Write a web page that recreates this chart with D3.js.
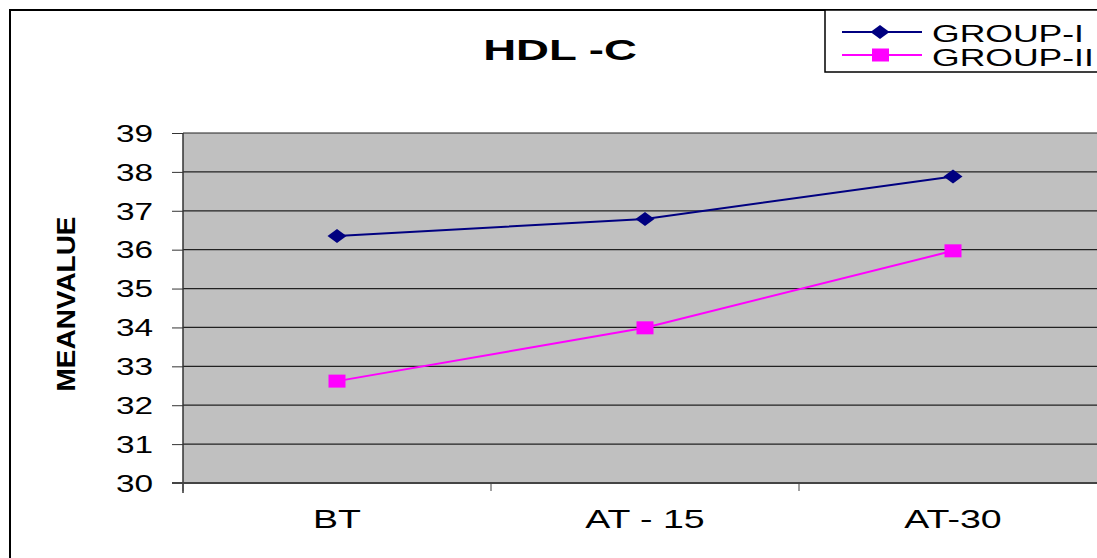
<!DOCTYPE html>
<html><head><meta charset="utf-8">
<script src="https://cdn.jsdelivr.net/npm/d3@7"></script>
<style>body{margin:0;background:#fff;}svg{display:block;}</style>
</head><body>
<svg id="c" width="1097" height="558"></svg>
<script>
const categories = ["BT", "AT - 15", "AT-30"];
const group1 = [36.35, 36.79, 37.88];
const group2 = [32.62, 33.99, 35.97];
const seriesNames = ["GROUP-I", "GROUP-II"];
const yTicks = [30, 31, 32, 33, 34, 35, 36, 37, 38, 39];
const title = "HDL -C";
const yLabel = "MEANVALUE";

(function () {
const svg = d3.select("#c");
const font = "Liberation Sans, Arial, sans-serif";
const pLeft = 183, pTop = 133, pBottom = 483, bandW = 308;
const pRight = pLeft + bandW * categories.length;
const K = 1.5; // horizontal text stretch seen in reference

function stretch(sel, k) {
  sel.each(function () {
    const w = this.getComputedTextLength();
    d3.select(this).attr("textLength", w * k).attr("lengthAdjust", "spacingAndGlyphs");
  });
}

// outer frame
svg.append("rect").attr("x", 10).attr("y", 10).attr("width", 1110).attr("height", 570)
  .attr("fill", "#fff").attr("stroke", "#000").attr("stroke-width", 2);

const x = d3.scaleBand().domain(categories).range([pLeft, pRight]);
const y = d3.scaleLinear().domain([30, 39]).range([pBottom, pTop]);

// plot area
svg.append("rect").attr("x", pLeft).attr("y", pTop).attr("width", pRight - pLeft).attr("height", pBottom - pTop)
  .attr("fill", "#C0C0C0");

// gridlines
svg.append("g").selectAll("line").data(yTicks).join("line")
  .attr("x1", pLeft).attr("x2", pRight).attr("y1", d => y(d)).attr("y2", d => y(d))
  .attr("stroke", "#222").attr("stroke-width", 1.2);

// y axis
const ya = svg.append("g").attr("transform", `translate(${pLeft},0)`)
  .call(d3.axisLeft(y).tickValues(yTicks).tickSize(11).tickPadding(19).tickFormat(d3.format("d")));
ya.select(".domain").remove();
ya.selectAll("line").attr("stroke", "#333");
ya.selectAll("text").attr("font-family", font).attr("font-size", 23).attr("fill", "#000").attr("dy", "0.36em");
stretch(ya.selectAll("text"), 1.45);
svg.append("line").attr("x1", pLeft).attr("x2", pLeft).attr("y1", pTop).attr("y2", pBottom + 10)
  .attr("stroke", "#333").attr("stroke-width", 1.5);

// x axis
const xt = d3.scaleLinear().domain([0, categories.length]).range([pLeft, pRight]);
svg.append("line").attr("x1", pLeft - 11).attr("x2", pRight).attr("y1", pBottom).attr("y2", pBottom)
  .attr("stroke", "#444").attr("stroke-width", 2);
svg.append("g").selectAll("line").data(d3.range(categories.length + 1)).join("line")
  .attr("x1", d => xt(d)).attr("x2", d => xt(d)).attr("y1", pBottom).attr("y2", pBottom + 8)
  .attr("stroke", "#444");
const xl = svg.append("g").selectAll("text").data(categories).join("text")
  .attr("x", d => x(d) + x.bandwidth() / 2).attr("y", 528)
  .attr("text-anchor", "middle").attr("font-family", font).attr("font-size", 25).text(d => d);
stretch(xl, K);

// lines
const cx = d => x(d) + x.bandwidth() / 2;
const line = d3.line().x((d, i) => cx(categories[i])).y(d => y(d));
svg.append("path").datum(group1).attr("d", line).attr("fill", "none").attr("stroke", "#000080").attr("stroke-width", 2);
svg.append("path").datum(group2).attr("d", line).attr("fill", "none").attr("stroke", "#FF00FF").attr("stroke-width", 2);

const diamond = (px, py) => `M${px - 9.5},${py} L${px},${py - 7} L${px + 9.5},${py} L${px},${py + 7} Z`;
svg.append("g").selectAll("path").data(group1).join("path")
  .attr("d", (d, i) => diamond(cx(categories[i]), y(d))).attr("fill", "#000080");
svg.append("g").selectAll("rect").data(group2).join("rect")
  .attr("x", (d, i) => cx(categories[i]) - 8.5).attr("y", d => y(d) - 6.5)
  .attr("width", 17).attr("height", 13).attr("fill", "#FF00FF");

// title
const tt = svg.append("text").attr("x", 560).attr("y", 60).attr("text-anchor", "middle")
  .attr("font-family", font).attr("font-weight", "bold").attr("font-size", 30).text(title);
stretch(tt, 1.52);

// y label
svg.append("text").attr("transform", "translate(75,304) rotate(-90)").attr("text-anchor", "middle")
  .attr("font-family", font).attr("font-weight", "bold").attr("font-size", 26)
  .attr("textLength", 175).attr("lengthAdjust", "spacingAndGlyphs").text(yLabel);

// legend
svg.append("rect").attr("x", 825).attr("y", 10).attr("width", 300).attr("height", 62)
  .attr("fill", "#fff").attr("stroke", "#000").attr("stroke-width", 1.5);
const lg = svg.append("g");
const colors = ["#000080", "#FF00FF"];
seriesNames.forEach((name, i) => {
  const ly = 32 + i * 23;
  lg.append("line").attr("x1", 842).attr("x2", 922).attr("y1", ly).attr("y2", ly)
    .attr("stroke", colors[i]).attr("stroke-width", 2);
  if (i === 0) lg.append("path").attr("d", diamond(880, ly)).attr("fill", colors[i]);
  else lg.append("rect").attr("x", 872).attr("y", ly - 6.5).attr("width", 17).attr("height", 13).attr("fill", colors[i]);
  const t = lg.append("text").attr("x", 932).attr("y", ly + 3 + i * 1).attr("dy", "0.3em")
    .attr("font-family", font).attr("font-size", 24).text(name);
  stretch(t, 1.48);
});
})();
</script>
</body></html>
